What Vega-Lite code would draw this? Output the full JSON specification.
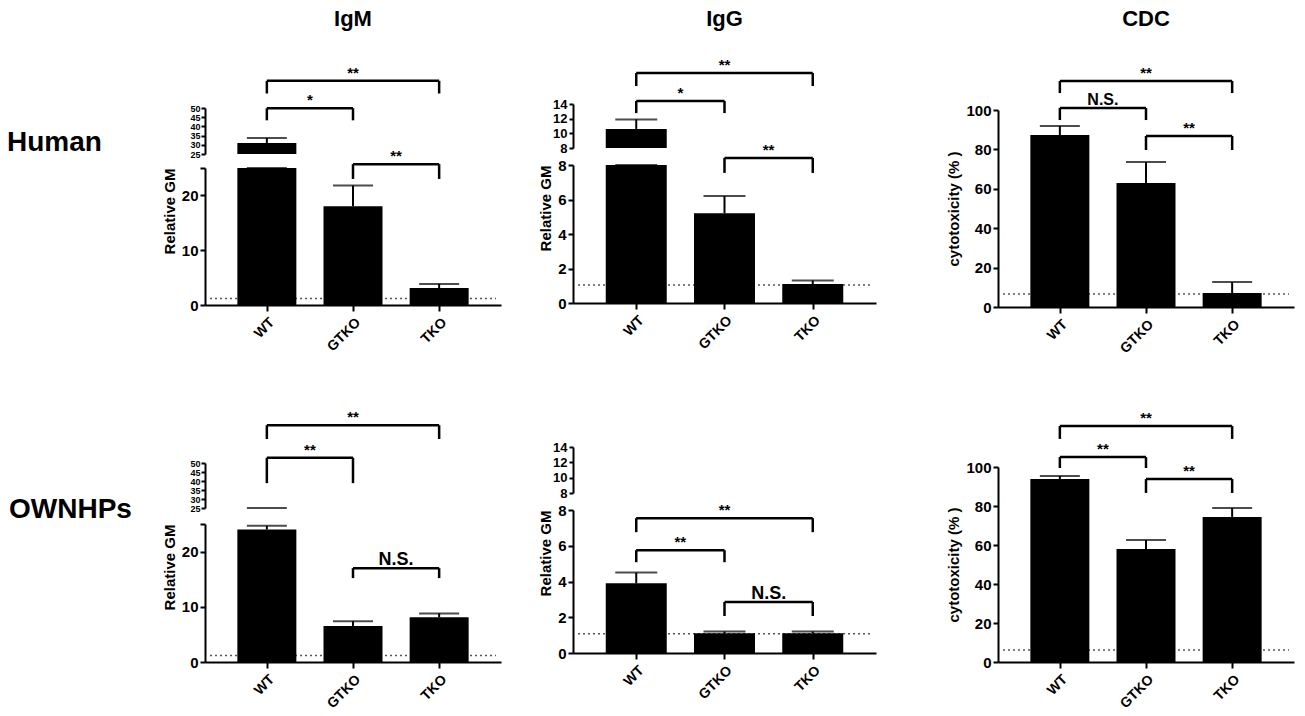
{
  "$schema": "https://vega.github.io/schema/vega-lite/v6.json",
  "background": "white",
  "padding": {"left": 0, "top": 7, "right": 5, "bottom": 5},
  "datasets": {
    "bars": [
      {"panel": "hIgM", "group": "WT", "pos": 1, "value": 31.0, "err": 33.7},
      {"panel": "hIgM", "group": "GTKO", "pos": 2, "value": 18.0, "err": 21.8},
      {"panel": "hIgM", "group": "TKO", "pos": 3, "value": 3.1, "err": 3.85},
      {"panel": "hIgG", "group": "WT", "pos": 1, "value": 10.6, "err": 11.9},
      {"panel": "hIgG", "group": "GTKO", "pos": 2, "value": 5.2, "err": 6.2},
      {"panel": "hIgG", "group": "TKO", "pos": 3, "value": 1.1, "err": 1.3},
      {"panel": "hCDC", "group": "WT", "pos": 1, "value": 87.3, "err": 91.9},
      {"panel": "hCDC", "group": "GTKO", "pos": 2, "value": 62.9, "err": 73.6},
      {"panel": "hCDC", "group": "TKO", "pos": 3, "value": 7.1, "err": 12.7},
      {"panel": "oIgM", "group": "WT", "pos": 1, "value": 24.0, "err": 24.7},
      {"panel": "oIgM", "group": "GTKO", "pos": 2, "value": 6.5, "err": 7.4},
      {"panel": "oIgM", "group": "TKO", "pos": 3, "value": 8.1, "err": 8.8},
      {"panel": "oIgG", "group": "WT", "pos": 1, "value": 3.9, "err": 4.5},
      {"panel": "oIgG", "group": "GTKO", "pos": 2, "value": 1.1, "err": 1.2},
      {"panel": "oIgG", "group": "TKO", "pos": 3, "value": 1.1, "err": 1.2},
      {"panel": "oCDC", "group": "WT", "pos": 1, "value": 93.8, "err": 95.4},
      {"panel": "oCDC", "group": "GTKO", "pos": 2, "value": 57.9, "err": 62.6},
      {"panel": "oCDC", "group": "TKO", "pos": 3, "value": 74.4, "err": 79.0}
    ],
    "brackets": [
      {"panel": "hIgM", "from": 1, "to": 3, "mid": 2, "y": 40.9, "leg": 38.6, "label": "**"},
      {"panel": "hIgM", "from": 1, "to": 2, "mid": 1.5, "y": 35.9, "leg": 33.7, "label": "*"},
      {"panel": "hIgM", "from": 2, "to": 3, "mid": 2.5, "y": 25.7, "leg": 23.0, "label": "**"},
      {"panel": "hIgG", "from": 1, "to": 3, "mid": 2, "y": 13.33, "leg": 12.58, "label": "**"},
      {"panel": "hIgG", "from": 1, "to": 2, "mid": 1.5, "y": 11.71, "leg": 11.01, "label": "*"},
      {"panel": "hIgG", "from": 2, "to": 3, "mid": 2.5, "y": 8.41, "leg": 7.54, "label": "**"},
      {"panel": "hCDC", "from": 1, "to": 3, "mid": 2, "y": 114.7, "leg": 108.6, "label": "**"},
      {"panel": "hCDC", "from": 1, "to": 2, "mid": 1.5, "y": 101.0, "leg": 94.9, "label": "N.S."},
      {"panel": "hCDC", "from": 2, "to": 3, "mid": 2.5, "y": 86.8, "leg": 79.7, "label": "**"},
      {"panel": "oIgM", "from": 1, "to": 3, "mid": 2, "y": 42.9, "leg": 40.4, "label": "**"},
      {"panel": "oIgM", "from": 1, "to": 2, "mid": 1.5, "y": 37.0, "leg": 32.4, "label": "**"},
      {"panel": "oIgM", "from": 2, "to": 3, "mid": 2.5, "y": 17.0, "leg": 15.2, "label": "N.S."},
      {"panel": "oIgG", "from": 1, "to": 3, "mid": 2, "y": 7.54, "leg": 6.76, "label": "**"},
      {"panel": "oIgG", "from": 1, "to": 2, "mid": 1.5, "y": 5.75, "leg": 5.08, "label": "**"},
      {"panel": "oIgG", "from": 2, "to": 3, "mid": 2.5, "y": 2.85, "leg": 2.07, "label": "N.S."},
      {"panel": "oCDC", "from": 1, "to": 3, "mid": 2, "y": 121.0, "leg": 114.4, "label": "**"},
      {"panel": "oCDC", "from": 1, "to": 2, "mid": 1.5, "y": 105.1, "leg": 99.5, "label": "**"},
      {"panel": "oCDC", "from": 2, "to": 3, "mid": 2.5, "y": 93.8, "leg": 86.7, "label": "**"}
    ],
    "baselines": [
      {"panel": "hIgM", "level": 1.2},
      {"panel": "hIgG", "level": 1.05},
      {"panel": "hCDC", "level": 6.6},
      {"panel": "oIgM", "level": 1.2},
      {"panel": "oIgG", "level": 1.07},
      {"panel": "oCDC", "level": 6.2}
    ]
  },
  "columns": 4,
  "align": "each",
  "bounds": "flush",
  "spacing": {"row": 155, "column": 72},
  "concat": [
    {
      "width": 133, "height": 72,
      "data": {"values": [{"label": "Human"}]},
      "mark": {"type": "text", "fontSize": 28, "dx": -12},
      "encoding": {"text": {"field": "label"}}
    },
    {
      "title": {"text": "IgM", "offset": 35},
      "width": 296, "height": 198,
      "resolve": {"scale": {"y": "independent"}, "axis": {"y": "independent"}},
      "layer": [
        {"layer": [
          {"data": {"name": "baselines"}, "transform": [{"filter": "datum.panel == 'hIgM'"}],
           "mark": {"type": "rule", "color": "#555", "strokeWidth": 1.5, "strokeDash": [2, 3]},
           "encoding": {"x": {"datum": 0.34, "type": "quantitative"}, "x2": {"datum": 3.66}, "y": {"field": "level", "type": "quantitative"}}},
          {"data": {"name": "bars"}, "transform": [{"filter": "datum.panel == 'hIgM'"}],
           "layer": [
             {"mark": {"type": "bar", "color": "#000", "size": 59, "orient": "vertical"},
              "encoding": {
                "x": {"field": "pos", "type": "quantitative", "scale": {"domain": [0.34, 3.66], "range": [0, 296], "zero": false, "nice": false},
                      "axis": {"values": [1, 2, 3], "tickCount": 20, "labelExpr": "datum.value == 1 ? 'WT' : datum.value == 2 ? 'GTKO' : 'TKO'", "labelAngle": -45, "labelFontSize": 14, "labelPadding": 4, "tickSize": 6, "title": null, "labelFlush": false}},
                "y": {"field": "value", "type": "quantitative", "stack": null, "scale": {"domain": [0, 25], "range": [198, 61], "nice": false, "clamp": true},
                      "axis": {"values": [0, 10, 20, 25], "tickCount": 20, "format": "d", "labelExpr": "datum.value == 25 ? '' : datum.label", "labelOverlap": false, "title": "Relative GM", "titleAnchor": "end"}}}},
             {"mark": {"type": "rule", "color": "#000", "strokeWidth": 2},
              "encoding": {"x": {"field": "pos", "type": "quantitative"}, "y": {"field": "value", "type": "quantitative"}, "y2": {"field": "err"}}},
             {"mark": {"type": "tick", "color": "#000", "orient": "horizontal", "size": 40, "thickness": 2},
              "encoding": {"x": {"field": "pos", "type": "quantitative"}, "y": {"field": "err", "type": "quantitative"}}}
           ]}
        ]},
        {"data": {"name": "bars"}, "transform": [{"filter": "datum.panel == 'hIgM'"}],
         "layer": [
           {"mark": {"type": "bar", "color": "#000", "size": 59, "orient": "vertical"},
            "encoding": {
              "x": {"field": "pos", "type": "quantitative"},
              "y": {"field": "value", "type": "quantitative", "stack": null, "scale": {"domain": [25, 50], "range": [47, 1], "zero": false, "nice": false, "clamp": true},
                    "axis": {"orient": "left", "values": [25, 30, 35, 40, 45, 50], "tickCount": 20, "format": "d", "labelOverlap": false, "labelFontSize": 9, "tickSize": 4, "labelPadding": 1, "title": null}},
              "y2": {"datum": 25}}},
           {"mark": {"type": "rule", "color": "#000", "strokeWidth": 2},
            "encoding": {"x": {"field": "pos", "type": "quantitative"}, "y": {"field": "value", "type": "quantitative"}, "y2": {"field": "err"}}},
           {"transform": [{"filter": {"field": "err", "gt": 25}}],
            "mark": {"type": "tick", "color": "#000", "orient": "horizontal", "size": 40, "thickness": 2},
            "encoding": {"x": {"field": "pos", "type": "quantitative"}, "y": {"field": "err", "type": "quantitative"}}}
         ]},
        {"data": {"name": "brackets"}, "transform": [{"filter": "datum.panel == 'hIgM'"}],
         "layer": [
           {"mark": {"type": "rule", "color": "#000", "strokeWidth": 2.5},
            "encoding": {"x": {"field": "from", "type": "quantitative"}, "x2": {"field": "to"},
                         "y": {"field": "y", "type": "quantitative", "scale": {"domain": [0, 25], "range": [198, 61], "nice": false}, "axis": null}}},
           {"mark": {"type": "rule", "color": "#000", "strokeWidth": 2.5},
            "encoding": {"x": {"field": "from", "type": "quantitative"}, "y": {"field": "y", "type": "quantitative", "axis": null}, "y2": {"field": "leg"}}},
           {"mark": {"type": "rule", "color": "#000", "strokeWidth": 2.5},
            "encoding": {"x": {"field": "to", "type": "quantitative"}, "y": {"field": "y", "type": "quantitative", "axis": null}, "y2": {"field": "leg"}}},
           {"mark": {"type": "text", "fontSize": 15, "baseline": "alphabetic", "dy": -3},
            "encoding": {"x": {"field": "mid", "type": "quantitative"}, "y": {"field": "y", "type": "quantitative", "axis": null}, "text": {"field": "label"}}}
         ]}
      ]
    },
    {
      "title": {"text": "IgG", "offset": 27, "dx": -25},
      "width": 353, "height": 196,
      "resolve": {"scale": {"y": "independent"}, "axis": {"y": "independent"}},
      "layer": [
        {"layer": [
          {"data": {"name": "baselines"}, "transform": [{"filter": "datum.panel == 'hIgG'"}],
           "mark": {"type": "rule", "color": "#555", "strokeWidth": 1.5, "strokeDash": [2, 3]},
           "encoding": {"x": {"datum": 0.34, "type": "quantitative"}, "x2": {"datum": 3.66}, "y": {"field": "level", "type": "quantitative"}}},
          {"data": {"name": "bars"}, "transform": [{"filter": "datum.panel == 'hIgG'"}],
           "layer": [
             {"mark": {"type": "bar", "color": "#000", "size": 61, "orient": "vertical"},
              "encoding": {
                "x": {"field": "pos", "type": "quantitative", "scale": {"domain": [0.34, 3.66], "range": [0, 303], "zero": false, "nice": false},
                      "axis": {"values": [1, 2, 3], "tickCount": 20, "labelExpr": "datum.value == 1 ? 'WT' : datum.value == 2 ? 'GTKO' : 'TKO'", "labelAngle": -45, "labelFontSize": 14, "labelPadding": 4, "tickSize": 6, "title": null, "labelFlush": false}},
                "y": {"field": "value", "type": "quantitative", "stack": null, "scale": {"domain": [0, 8], "range": [196, 58], "nice": false, "clamp": true},
                      "axis": {"values": [0, 2, 4, 6, 8], "tickCount": 20, "format": "d", "labelOverlap": false, "title": "Relative GM", "titleAnchor": "end"}}}},
             {"mark": {"type": "rule", "color": "#000", "strokeWidth": 2},
              "encoding": {"x": {"field": "pos", "type": "quantitative"}, "y": {"field": "value", "type": "quantitative"}, "y2": {"field": "err"}}},
             {"mark": {"type": "tick", "color": "#000", "orient": "horizontal", "size": 42, "thickness": 2},
              "encoding": {"x": {"field": "pos", "type": "quantitative"}, "y": {"field": "err", "type": "quantitative"}}}
           ]}
        ]},
        {"data": {"name": "bars"}, "transform": [{"filter": "datum.panel == 'hIgG'"}],
         "layer": [
           {"mark": {"type": "bar", "color": "#000", "size": 61, "orient": "vertical"},
            "encoding": {
              "x": {"field": "pos", "type": "quantitative"},
              "y": {"field": "value", "type": "quantitative", "stack": null, "scale": {"domain": [8, 14], "range": [41, -3], "zero": false, "nice": false, "clamp": true},
                    "axis": {"orient": "left", "values": [8, 10, 12, 14], "tickCount": 20, "format": "d", "labelOverlap": false, "labelFontSize": 13, "tickSize": 4, "title": null}},
              "y2": {"datum": 8}}},
           {"mark": {"type": "rule", "color": "#000", "strokeWidth": 2},
            "encoding": {"x": {"field": "pos", "type": "quantitative"}, "y": {"field": "value", "type": "quantitative"}, "y2": {"field": "err"}}},
           {"transform": [{"filter": {"field": "err", "gt": 8}}],
            "mark": {"type": "tick", "color": "#000", "orient": "horizontal", "size": 42, "thickness": 2},
            "encoding": {"x": {"field": "pos", "type": "quantitative"}, "y": {"field": "err", "type": "quantitative"}}}
         ]},
        {"data": {"name": "brackets"}, "transform": [{"filter": "datum.panel == 'hIgG'"}],
         "layer": [
           {"mark": {"type": "rule", "color": "#000", "strokeWidth": 2.5},
            "encoding": {"x": {"field": "from", "type": "quantitative"}, "x2": {"field": "to"},
                         "y": {"field": "y", "type": "quantitative", "scale": {"domain": [0, 8], "range": [196, 58], "nice": false}, "axis": null}}},
           {"mark": {"type": "rule", "color": "#000", "strokeWidth": 2.5},
            "encoding": {"x": {"field": "from", "type": "quantitative"}, "y": {"field": "y", "type": "quantitative", "axis": null}, "y2": {"field": "leg"}}},
           {"mark": {"type": "rule", "color": "#000", "strokeWidth": 2.5},
            "encoding": {"x": {"field": "to", "type": "quantitative"}, "y": {"field": "y", "type": "quantitative", "axis": null}, "y2": {"field": "leg"}}},
           {"mark": {"type": "text", "fontSize": 15, "baseline": "alphabetic", "dy": -3},
            "encoding": {"x": {"field": "mid", "type": "quantitative"}, "y": {"field": "y", "type": "quantitative", "axis": null}, "text": {"field": "label"}}}
         ]}
      ]
    },
    {
      "title": {"text": "CDC", "offset": 35},
      "width": 296, "height": 200,
      "layer": [
        {"data": {"name": "baselines"}, "transform": [{"filter": "datum.panel == 'hCDC'"}],
         "mark": {"type": "rule", "color": "#555", "strokeWidth": 1.5, "strokeDash": [2, 3]},
         "encoding": {"x": {"datum": 0.34, "type": "quantitative"}, "x2": {"datum": 3.66}, "y": {"field": "level", "type": "quantitative"}}},
        {"data": {"name": "bars"}, "transform": [{"filter": "datum.panel == 'hCDC'"}],
         "layer": [
           {"mark": {"type": "bar", "color": "#000", "size": 59, "orient": "vertical"},
            "encoding": {
              "x": {"field": "pos", "type": "quantitative", "scale": {"domain": [0.34, 3.66], "range": [0, 296], "zero": false, "nice": false},
                    "axis": {"values": [1, 2, 3], "tickCount": 20, "labelExpr": "datum.value == 1 ? 'WT' : datum.value == 2 ? 'GTKO' : 'TKO'", "labelAngle": -45, "labelFontSize": 14, "labelPadding": 4, "tickSize": 6, "title": null, "labelFlush": false}},
              "y": {"field": "value", "type": "quantitative", "stack": null, "scale": {"domain": [0, 100], "range": [200, 3], "nice": false},
                    "axis": {"values": [0, 20, 40, 60, 80, 100], "tickCount": 20, "format": "d", "labelOverlap": false, "title": "cytotoxicity (% )"}}}},
           {"mark": {"type": "rule", "color": "#000", "strokeWidth": 2},
            "encoding": {"x": {"field": "pos", "type": "quantitative"}, "y": {"field": "value", "type": "quantitative"}, "y2": {"field": "err"}}},
           {"mark": {"type": "tick", "color": "#000", "orient": "horizontal", "size": 40, "thickness": 2},
            "encoding": {"x": {"field": "pos", "type": "quantitative"}, "y": {"field": "err", "type": "quantitative"}}}
         ]},
        {"data": {"name": "brackets"}, "transform": [{"filter": "datum.panel == 'hCDC'"}],
         "layer": [
           {"mark": {"type": "rule", "color": "#000", "strokeWidth": 2.5},
            "encoding": {"x": {"field": "from", "type": "quantitative"}, "x2": {"field": "to"}, "y": {"field": "y", "type": "quantitative"}}},
           {"mark": {"type": "rule", "color": "#000", "strokeWidth": 2.5},
            "encoding": {"x": {"field": "from", "type": "quantitative"}, "y": {"field": "y", "type": "quantitative"}, "y2": {"field": "leg"}}},
           {"mark": {"type": "rule", "color": "#000", "strokeWidth": 2.5},
            "encoding": {"x": {"field": "to", "type": "quantitative"}, "y": {"field": "y", "type": "quantitative"}, "y2": {"field": "leg"}}},
           {"mark": {"type": "text", "baseline": "alphabetic", "dy": -3},
            "encoding": {"x": {"field": "mid", "type": "quantitative"}, "y": {"field": "y", "type": "quantitative"}, "text": {"field": "label"},
                         "size": {"condition": {"test": "datum.label == 'N.S.'", "value": 16}, "value": 15}}}
         ]}
      ]
    },
    {
      "width": 133, "height": 96,
      "data": {"values": [{"label": "OWNHPs"}]},
      "mark": {"type": "text", "fontSize": 28, "dx": 4},
      "encoding": {"text": {"field": "label"}}
    },
    {
      "width": 296, "height": 200,
      "resolve": {"scale": {"y": "independent"}, "axis": {"y": "independent"}},
      "layer": [
        {"layer": [
          {"data": {"name": "baselines"}, "transform": [{"filter": "datum.panel == 'oIgM'"}],
           "mark": {"type": "rule", "color": "#555", "strokeWidth": 1.5, "strokeDash": [2, 3]},
           "encoding": {"x": {"datum": 0.34, "type": "quantitative"}, "x2": {"datum": 3.66}, "y": {"field": "level", "type": "quantitative"}}},
          {"data": {"name": "bars"}, "transform": [{"filter": "datum.panel == 'oIgM'"}],
           "layer": [
             {"mark": {"type": "bar", "color": "#000", "size": 59, "orient": "vertical"},
              "encoding": {
                "x": {"field": "pos", "type": "quantitative", "scale": {"domain": [0.34, 3.66], "range": [0, 296], "zero": false, "nice": false},
                      "axis": {"values": [1, 2, 3], "tickCount": 20, "labelExpr": "datum.value == 1 ? 'WT' : datum.value == 2 ? 'GTKO' : 'TKO'", "labelAngle": -45, "labelFontSize": 14, "labelPadding": 4, "tickSize": 6, "title": null, "labelFlush": false}},
                "y": {"field": "value", "type": "quantitative", "stack": null, "scale": {"domain": [0, 25], "range": [200, 62], "nice": false, "clamp": true},
                      "axis": {"values": [0, 10, 20, 25], "tickCount": 20, "format": "d", "labelExpr": "datum.value == 25 ? '' : datum.label", "labelOverlap": false, "title": "Relative GM", "titleAnchor": "end"}}}},
             {"mark": {"type": "rule", "color": "#000", "strokeWidth": 2},
              "encoding": {"x": {"field": "pos", "type": "quantitative"}, "y": {"field": "value", "type": "quantitative"}, "y2": {"field": "err"}}},
             {"mark": {"type": "tick", "color": "#000", "orient": "horizontal", "size": 40, "thickness": 2},
              "encoding": {"x": {"field": "pos", "type": "quantitative"}, "y": {"field": "err", "type": "quantitative"}}}
           ]}
        ]},
        {"data": {"name": "bars"}, "transform": [{"filter": "datum.panel == 'oIgM'"}],
         "layer": [
           {"mark": {"type": "bar", "color": "#000", "size": 59, "orient": "vertical"},
            "encoding": {
              "x": {"field": "pos", "type": "quantitative"},
              "y": {"field": "value", "type": "quantitative", "stack": null, "scale": {"domain": [25, 50], "range": [46, 1], "zero": false, "nice": false, "clamp": true},
                    "axis": {"orient": "left", "values": [25, 30, 35, 40, 45, 50], "tickCount": 20, "format": "d", "labelOverlap": false, "labelFontSize": 9, "tickSize": 4, "labelPadding": 1, "title": null}},
              "y2": {"datum": 25}}},
           {"transform": [{"filter": {"field": "err", "gt": 24}}],
            "mark": {"type": "tick", "color": "#000", "orient": "horizontal", "size": 40, "thickness": 2},
            "encoding": {"x": {"field": "pos", "type": "quantitative"}, "y": {"field": "err", "type": "quantitative"}}}
         ]},
        {"data": {"name": "brackets"}, "transform": [{"filter": "datum.panel == 'oIgM'"}],
         "layer": [
           {"mark": {"type": "rule", "color": "#000", "strokeWidth": 2.5},
            "encoding": {"x": {"field": "from", "type": "quantitative"}, "x2": {"field": "to"},
                         "y": {"field": "y", "type": "quantitative", "scale": {"domain": [0, 25], "range": [200, 62], "nice": false}, "axis": null}}},
           {"mark": {"type": "rule", "color": "#000", "strokeWidth": 2.5},
            "encoding": {"x": {"field": "from", "type": "quantitative"}, "y": {"field": "y", "type": "quantitative", "axis": null}, "y2": {"field": "leg"}}},
           {"mark": {"type": "rule", "color": "#000", "strokeWidth": 2.5},
            "encoding": {"x": {"field": "to", "type": "quantitative"}, "y": {"field": "y", "type": "quantitative", "axis": null}, "y2": {"field": "leg"}}},
           {"mark": {"type": "text", "baseline": "alphabetic", "dy": -3},
            "encoding": {"x": {"field": "mid", "type": "quantitative"}, "y": {"field": "y", "type": "quantitative", "axis": null}, "text": {"field": "label"},
                         "size": {"condition": {"test": "datum.label == 'N.S.'", "value": 18}, "value": 15}}}
         ]}
      ]
    },
    {
      "width": 353, "height": 191,
      "resolve": {"scale": {"y": "independent"}, "axis": {"y": "independent"}},
      "layer": [
        {"layer": [
          {"data": {"name": "baselines"}, "transform": [{"filter": "datum.panel == 'oIgG'"}],
           "mark": {"type": "rule", "color": "#555", "strokeWidth": 1.5, "strokeDash": [2, 3]},
           "encoding": {"x": {"datum": 0.34, "type": "quantitative"}, "x2": {"datum": 3.66}, "y": {"field": "level", "type": "quantitative"}}},
          {"data": {"name": "bars"}, "transform": [{"filter": "datum.panel == 'oIgG'"}],
           "layer": [
             {"mark": {"type": "bar", "color": "#000", "size": 61, "orient": "vertical"},
              "encoding": {
                "x": {"field": "pos", "type": "quantitative", "scale": {"domain": [0.34, 3.66], "range": [0, 303], "zero": false, "nice": false},
                      "axis": {"values": [1, 2, 3], "tickCount": 20, "labelExpr": "datum.value == 1 ? 'WT' : datum.value == 2 ? 'GTKO' : 'TKO'", "labelAngle": -45, "labelFontSize": 14, "labelPadding": 4, "tickSize": 6, "title": null, "labelFlush": false}},
                "y": {"field": "value", "type": "quantitative", "stack": null, "scale": {"domain": [0, 8], "range": [191, 48], "nice": false, "clamp": true},
                      "axis": {"values": [0, 2, 4, 6, 8], "tickCount": 20, "format": "d", "labelOverlap": false, "title": "Relative GM", "titleAnchor": "end"}}}},
             {"mark": {"type": "rule", "color": "#000", "strokeWidth": 2},
              "encoding": {"x": {"field": "pos", "type": "quantitative"}, "y": {"field": "value", "type": "quantitative"}, "y2": {"field": "err"}}},
             {"mark": {"type": "tick", "color": "#000", "orient": "horizontal", "size": 42, "thickness": 2},
              "encoding": {"x": {"field": "pos", "type": "quantitative"}, "y": {"field": "err", "type": "quantitative"}}}
           ]}
        ]},
        {"data": {"name": "bars"}, "transform": [{"filter": "datum.panel == 'oIgG'"}],
         "layer": [
           {"mark": {"type": "bar", "color": "#000", "size": 61, "orient": "vertical"},
            "encoding": {
              "x": {"field": "pos", "type": "quantitative"},
              "y": {"field": "value", "type": "quantitative", "stack": null, "scale": {"domain": [8, 14], "range": [31, -15], "zero": false, "nice": false, "clamp": true},
                    "axis": {"orient": "left", "values": [8, 10, 12, 14], "tickCount": 20, "format": "d", "labelOverlap": false, "labelFontSize": 13, "tickSize": 4, "title": null}},
              "y2": {"datum": 8}}}
         ]},
        {"data": {"name": "brackets"}, "transform": [{"filter": "datum.panel == 'oIgG'"}],
         "layer": [
           {"mark": {"type": "rule", "color": "#000", "strokeWidth": 2.5},
            "encoding": {"x": {"field": "from", "type": "quantitative"}, "x2": {"field": "to"},
                         "y": {"field": "y", "type": "quantitative", "scale": {"domain": [0, 8], "range": [191, 48], "nice": false}, "axis": null}}},
           {"mark": {"type": "rule", "color": "#000", "strokeWidth": 2.5},
            "encoding": {"x": {"field": "from", "type": "quantitative"}, "y": {"field": "y", "type": "quantitative", "axis": null}, "y2": {"field": "leg"}}},
           {"mark": {"type": "rule", "color": "#000", "strokeWidth": 2.5},
            "encoding": {"x": {"field": "to", "type": "quantitative"}, "y": {"field": "y", "type": "quantitative", "axis": null}, "y2": {"field": "leg"}}},
           {"mark": {"type": "text", "baseline": "alphabetic", "dy": -3},
            "encoding": {"x": {"field": "mid", "type": "quantitative"}, "y": {"field": "y", "type": "quantitative", "axis": null}, "text": {"field": "label"},
                         "size": {"condition": {"test": "datum.label == 'N.S.'", "value": 18}, "value": 15}}}
         ]}
      ]
    },
    {
      "width": 296, "height": 200,
      "layer": [
        {"data": {"name": "baselines"}, "transform": [{"filter": "datum.panel == 'oCDC'"}],
         "mark": {"type": "rule", "color": "#555", "strokeWidth": 1.5, "strokeDash": [2, 3]},
         "encoding": {"x": {"datum": 0.34, "type": "quantitative"}, "x2": {"datum": 3.66}, "y": {"field": "level", "type": "quantitative"}}},
        {"data": {"name": "bars"}, "transform": [{"filter": "datum.panel == 'oCDC'"}],
         "layer": [
           {"mark": {"type": "bar", "color": "#000", "size": 59, "orient": "vertical"},
            "encoding": {
              "x": {"field": "pos", "type": "quantitative", "scale": {"domain": [0.34, 3.66], "range": [0, 296], "zero": false, "nice": false},
                    "axis": {"values": [1, 2, 3], "tickCount": 20, "labelExpr": "datum.value == 1 ? 'WT' : datum.value == 2 ? 'GTKO' : 'TKO'", "labelAngle": -45, "labelFontSize": 14, "labelPadding": 4, "tickSize": 6, "title": null, "labelFlush": false}},
              "y": {"field": "value", "type": "quantitative", "stack": null, "scale": {"domain": [0, 100], "range": [200, 5], "nice": false},
                    "axis": {"values": [0, 20, 40, 60, 80, 100], "tickCount": 20, "format": "d", "labelOverlap": false, "title": "cytotoxicity (% )"}}}},
           {"mark": {"type": "rule", "color": "#000", "strokeWidth": 2},
            "encoding": {"x": {"field": "pos", "type": "quantitative"}, "y": {"field": "value", "type": "quantitative"}, "y2": {"field": "err"}}},
           {"mark": {"type": "tick", "color": "#000", "orient": "horizontal", "size": 40, "thickness": 2},
            "encoding": {"x": {"field": "pos", "type": "quantitative"}, "y": {"field": "err", "type": "quantitative"}}}
         ]},
        {"data": {"name": "brackets"}, "transform": [{"filter": "datum.panel == 'oCDC'"}],
         "layer": [
           {"mark": {"type": "rule", "color": "#000", "strokeWidth": 2.5},
            "encoding": {"x": {"field": "from", "type": "quantitative"}, "x2": {"field": "to"}, "y": {"field": "y", "type": "quantitative"}}},
           {"mark": {"type": "rule", "color": "#000", "strokeWidth": 2.5},
            "encoding": {"x": {"field": "from", "type": "quantitative"}, "y": {"field": "y", "type": "quantitative"}, "y2": {"field": "leg"}}},
           {"mark": {"type": "rule", "color": "#000", "strokeWidth": 2.5},
            "encoding": {"x": {"field": "to", "type": "quantitative"}, "y": {"field": "y", "type": "quantitative"}, "y2": {"field": "leg"}}},
           {"mark": {"type": "text", "fontSize": 15, "baseline": "alphabetic", "dy": -3},
            "encoding": {"x": {"field": "mid", "type": "quantitative"}, "y": {"field": "y", "type": "quantitative"}, "text": {"field": "label"}}}
         ]}
      ]
    }
  ],
  "config": {
    "view": {"stroke": "transparent"},
    "font": "Liberation Sans",
    "axis": {
      "grid": false, "domainColor": "#000", "domainWidth": 2, "tickColor": "#000", "tickWidth": 2, "tickSize": 5,
      "labelFont": "Liberation Sans", "labelFontWeight": "bold", "labelFontSize": 15, "labelColor": "#000", "labelPadding": 2, "labelOverlap": false,
      "titleFont": "Liberation Sans", "titleFontWeight": "bold", "titleFontSize": 15, "titleColor": "#000", "titlePadding": 4
    },
    "text": {"font": "Liberation Sans", "fontWeight": "bold", "color": "#000"},
    "title": {"font": "Liberation Sans", "fontWeight": "bold", "fontSize": 22, "color": "#000", "frame": "group", "baseline": "alphabetic"}
  }
}
